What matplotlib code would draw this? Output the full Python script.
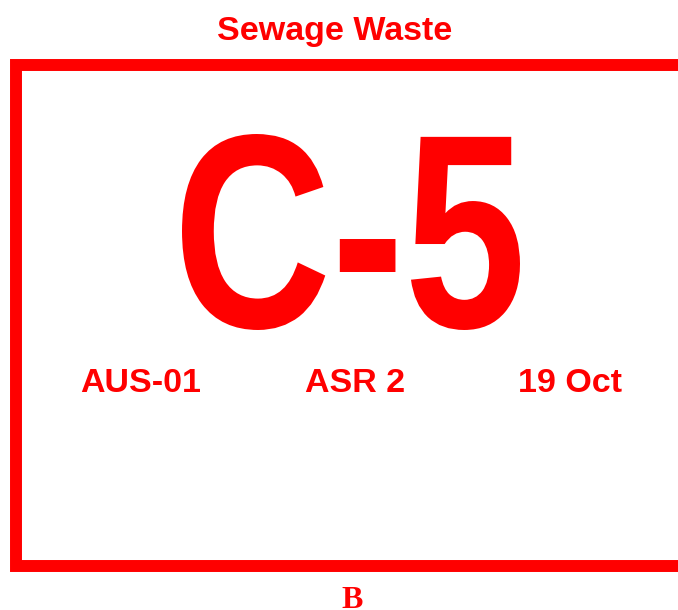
import matplotlib.pyplot as plt
from matplotlib.textpath import TextPath
from matplotlib.font_manager import FontProperties
from matplotlib.patches import PathPatch
from matplotlib.transforms import Affine2D

# label texts
title = "Sewage Waste"
code = "C-5"
info = ["AUS-01", "ASR 2", "19 Oct"]
info_x = [141, 355, 570]
footer = "B"

red = "#ff0000"

fig = plt.figure(figsize=(6.78, 6.10), dpi=100)
ax = fig.add_axes([0, 0, 1, 1])
ax.set_xlim(0, 678)
ax.set_ylim(610, 0)
ax.axis("off")

# frame, its right side sits just past the image edge
ax.plot([683.8, 15.5, 15.5, 683.8, 683.8], [65, 65, 566, 566, 65], color=red,
        linewidth=8.6, solid_joinstyle="miter", solid_capstyle="projecting")

ax.text(335, 40, title, color=red, fontsize=24.5, fontweight="bold",
        family="Liberation Sans", ha="center", va="baseline")

# big code: narrow bold look, so draw it as a path squeezed sideways
tp = TextPath((0, 0), code, size=1,
              prop=FontProperties(family="Liberation Sans", weight="bold"))
bb = tp.get_extents()
h, w = 196, 338          # ink box of the big code in pixels
left, top = 182, 134
tr = (Affine2D().translate(-bb.x0, -bb.y1)
      .scale(w / bb.width, -h / bb.height)
      .translate(left, top))
ax.add_patch(PathPatch(tr.transform_path(tp), facecolor=red, edgecolor="none"))

for x, s in zip(info_x, info):
    ax.text(x, 392, s, color=red, fontsize=24.5, fontweight="bold",
            family="Liberation Sans", ha="center", va="baseline")
ax.text(352, 608, footer, color=red, fontsize=23, fontweight="bold",
        family="Liberation Serif", ha="center", va="baseline")

fig.savefig("out.png", dpi=100)
